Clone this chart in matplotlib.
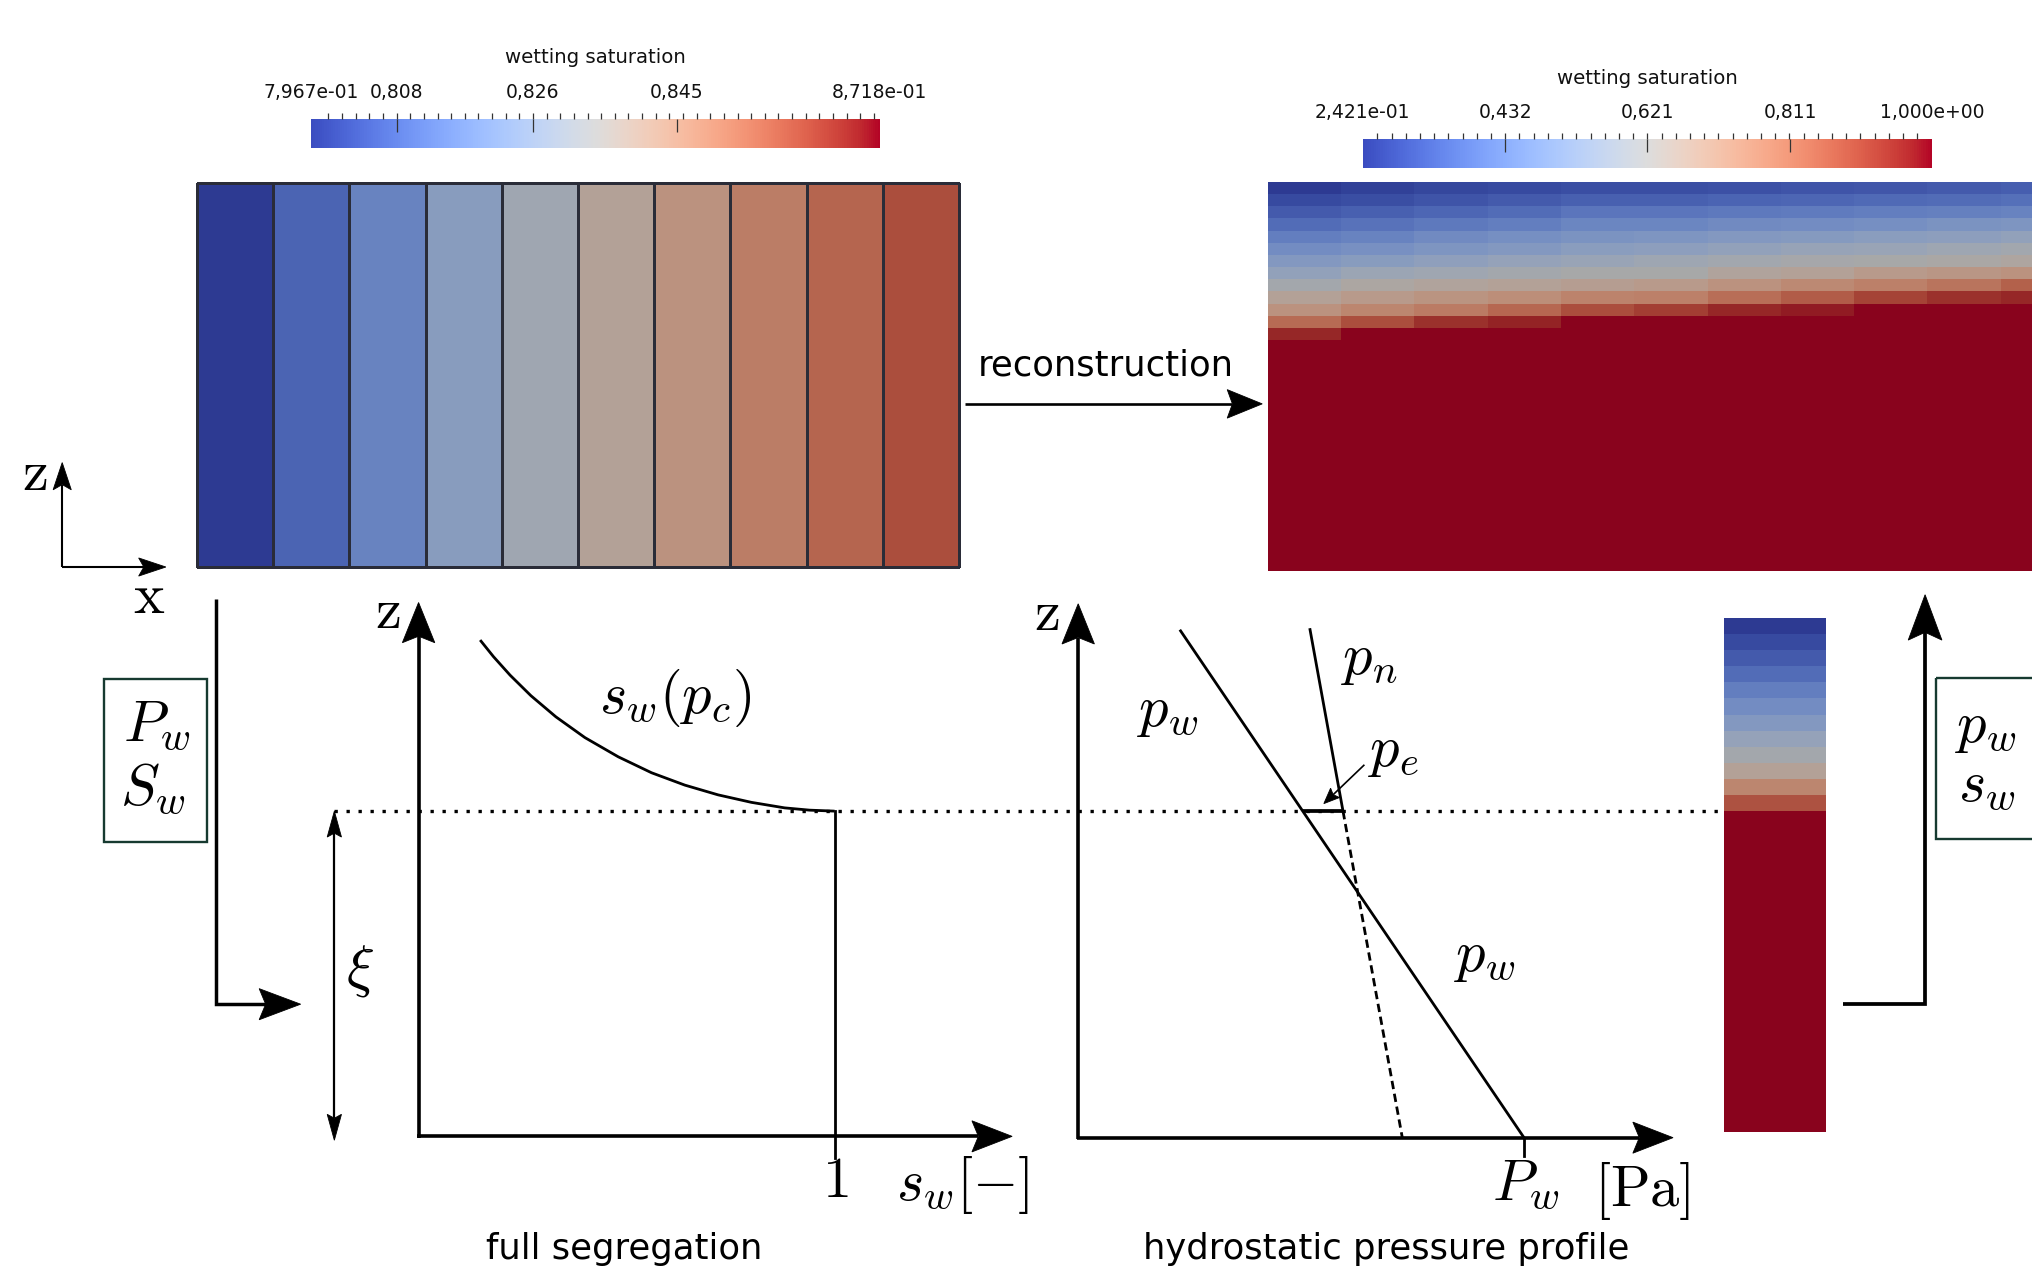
import numpy as np
import matplotlib
matplotlib.use('Agg')
import matplotlib.pyplot as plt
from matplotlib.colors import ListedColormap, Normalize
from matplotlib.patches import Polygon, Rectangle
from matplotlib.transforms import blended_transform_factory
from matplotlib.cm import ScalarMappable

plt.rcParams['mathtext.fontset'] = 'cm'
plt.rcParams['font.family'] = ['DejaVu Sans']

# ---------------------------------------------------------------- data
coarse_range = [0.7967, 0.8718]
coarse_major = [0.808, 0.826, 0.845]
coarse_labels = ['7,967e-01', '0,808', '0,826', '0,845', '8,718e-01']
# coarse cell saturations (10 columns, left -> right)
sat_coarse = [0.7967, 0.8065, 0.8147, 0.8237, 0.8312, 0.8388, 0.8448, 0.8508, 0.8568, 0.8613]

fine_range = [0.2421, 1.0]
fine_major = [0.432, 0.621, 0.811]
fine_labels = ['2,421e-01', '0,432', '0,621', '0,811', '1,000e+00']
# reconstructed fine-scale saturation, top 13 rows (11 columns); rows below are fully wet
sat_fine_top = [
    [0.242, 0.257, 0.272, 0.280, 0.288, 0.288, 0.295, 0.303, 0.310, 0.318, 0.325],
    [0.280, 0.288, 0.303, 0.318, 0.333, 0.333, 0.341, 0.348, 0.356, 0.363, 0.371],
    [0.318, 0.333, 0.348, 0.363, 0.386, 0.386, 0.394, 0.401, 0.409, 0.416, 0.424],
    [0.363, 0.378, 0.394, 0.409, 0.432, 0.432, 0.447, 0.454, 0.462, 0.477, 0.485],
    [0.409, 0.424, 0.447, 0.462, 0.477, 0.485, 0.500, 0.507, 0.522, 0.530, 0.545],
    [0.454, 0.469, 0.485, 0.500, 0.522, 0.530, 0.545, 0.560, 0.568, 0.583, 0.598],
    [0.500, 0.515, 0.538, 0.553, 0.568, 0.583, 0.598, 0.613, 0.621, 0.629, 0.644],
    [0.545, 0.576, 0.591, 0.606, 0.621, 0.621, 0.651, 0.666, 0.697, 0.712, 0.727],
    [0.606, 0.636, 0.651, 0.666, 0.682, 0.697, 0.727, 0.757, 0.780, 0.811, 0.856],
    [0.666, 0.697, 0.720, 0.742, 0.773, 0.780, 0.826, 0.864, 0.917, 0.947, 0.962],
    [0.727, 0.765, 0.795, 0.841, 0.894, 0.924, 0.962, 0.977, 1.000, 1.000, 1.000],
    [0.833, 0.894, 0.947, 0.970, 1.000, 1.000, 1.000, 1.000, 1.000, 1.000, 1.000],
    [0.962, 1.000, 1.000, 1.000, 1.000, 1.000, 1.000, 1.000, 1.000, 1.000, 1.000],
]
n_wet_rows = 19
# vertical saturation profile (32 cells, top -> bottom)
sat_column = [0.242, 0.280, 0.318, 0.363, 0.409, 0.454, 0.500, 0.553, 0.606, 0.666,
              0.765, 0.886] + [1.0] * 20

# full segregation: s_w(p_c) curve above the interface (z in units of xi)
seg_sw = [0.148, 0.18, 0.22, 0.27, 0.33, 0.40, 0.48, 0.56, 0.64, 0.72, 0.80, 0.88, 0.94, 1.0]
seg_z = [1.526, 1.475, 1.418, 1.355, 1.290, 1.226, 1.167, 1.118, 1.080, 1.050, 1.027, 1.010, 1.003, 1.0]
# hydrostatic pressure profile (p in units of P_w, z in units of xi)
pw_p = [0.2297, 1.0]
pw_z = [1.552, 0.0]
pn_p = [0.520, 0.594, 0.727]
pn_z = [1.556, 1.0, 0.0]
xi = 1.0

# ---------------------------------------------------------------- figure
W, H = 1568.0, 984.0
fig = plt.figure(figsize=(20.32, 12.75), dpi=100)


def rect(x0, y0, x1, y1):
    return [x0 / W, 1 - y1 / H, (x1 - x0) / W, (y1 - y0) / H]


axm = fig.add_axes([0, 0, 1, 1])
axm.set_xlim(0, W)
axm.set_ylim(H, 0)
axm.axis('off')

base = plt.get_cmap('coolwarm')(np.linspace(0, 1, 256))[:, :3]
shaded = ListedColormap(np.clip(base * 0.76, 0, 1))


def head(tip, frm, L, hw, notch):
    tip = np.asarray(tip, float)
    frm = np.asarray(frm, float)
    d = tip - frm
    d = d / np.hypot(*d)
    p = np.array([-d[1], d[0]])
    pts = [tip, tip - L * d + hw * p, tip - (L - notch) * d, tip - L * d - hw * p]
    axm.add_patch(Polygon(pts, closed=True, facecolor='black', edgecolor='black',
                          lw=0.6, zorder=6))
    return tip - (L - notch) * d


def arrow(pts, L, hw, notch, lw, both=False, color='black'):
    pts = np.array(pts, float)
    pts[-1] = head(pts[-1], pts[-2], L, hw, notch)
    if both:
        pts[0] = head(pts[0], pts[1], L, hw, notch)
    axm.plot(pts[:, 0], pts[:, 1], color=color, lw=lw, solid_capstyle='butt',
             solid_joinstyle='miter', zorder=5)


def to_m(ax, x, y):
    return axm.transData.inverted().transform(ax.transData.transform((x, y)))


# ---------------- colour bars
def make_cbar(box, rng, majors, labels):
    cax = fig.add_axes(rect(*box))
    cb = fig.colorbar(ScalarMappable(Normalize(*rng), cmap='coolwarm'), cax=cax,
                      orientation='horizontal')
    cb.outline.set_visible(False)
    cax.xaxis.set_ticks_position('top')
    step = (majors[1] - majors[0]) / 10.0
    minors = np.arange(majors[0] - 20 * step, rng[1], step)
    minors = minors[(minors > rng[0] + 0.4 * step) & (minors < rng[1] - 0.4 * step)]
    cb.set_ticks(majors)
    cb.set_ticks(minors, minor=True)
    cax.xaxis.remove_overlapping_locs = False
    cax.tick_params(which='major', direction='in', length=9.3, width=0.9, color='#333333',
                    labeltop=False, labelbottom=False)
    cax.tick_params(which='minor', direction='out', length=4.4, width=0.9, color='#333333')
    tr = blended_transform_factory(cax.transData, cax.transAxes)
    for v, lab in zip([rng[0]] + list(majors) + [rng[1]], labels):
        cax.text(v, 1.73, lab, transform=tr, ha='center', va='baseline', fontsize=13.5,
                 color='#111111')
    cax.text(0.5, 2.92, 'wetting saturation', transform=cax.transAxes, ha='center',
             va='baseline', fontsize=14.2, color='#111111')
    return cax


make_cbar((240, 92, 679, 114.4), coarse_range, coarse_major, coarse_labels)
make_cbar((1051.4, 107.5, 1491, 129.9), fine_range, fine_major, fine_labels)

# ---------------- coarse block
axl = fig.add_axes(rect(152, 141, 740, 437.3))
qm = axl.pcolormesh(np.arange(len(sat_coarse) + 1), [0, 1], np.array([sat_coarse]),
                    cmap=shaded, norm=Normalize(*coarse_range), edgecolors='#2a2c38',
                    linewidth=0.9)
qm.set_clip_on(False)
axl.set_xlim(0, len(sat_coarse))
axl.set_ylim(0, 1)
axl.axis('off')

# ---------------- fine block
fine = np.vstack([np.array(sat_fine_top), np.ones((n_wet_rows, 11))])
colw = 56.56
axr = fig.add_axes(rect(978.3, 140.4, 978.3 + fine.shape[1] * colw, 441))
axr.pcolormesh(np.arange(fine.shape[1] + 1), np.arange(fine.shape[0] + 1), fine,
               cmap=shaded, norm=Normalize(*fine_range), edgecolors='none')
axr.set_xlim(0, fine.shape[1])
axr.set_ylim(fine.shape[0], 0)
axr.axis('off')

# ---------------- column profile
axc = fig.add_axes(rect(1330, 477, 1409, 874))
col = np.array(sat_column).reshape(-1, 1)
axc.pcolormesh([0, 1], np.arange(col.shape[0] + 1), col, cmap=shaded,
               norm=Normalize(*fine_range), edgecolors='none')
axc.set_xlim(0, 1)
axc.set_ylim(col.shape[0], 0)
axc.axis('off')

# ---------------- full segregation plot
axs = fig.add_axes(rect(323, 465, 781, 877))
axs.set_xlim(0, (781 - 323) / 321.0)
axs.set_ylim(0, (877 - 465) / 251.0)
axs.axis('off')
axs.plot(seg_sw, seg_z, color='black', lw=2.0, clip_on=False, solid_capstyle='butt')
axs.plot([seg_sw[-1], seg_sw[-1]], [xi, -0.068], color='black', lw=2.0, clip_on=False)
o = to_m(axs, 0, 0)
zt = to_m(axs, 0, axs.get_ylim()[1])
xt = to_m(axs, axs.get_xlim()[1], 0)
arrow([o + [0, 1.2], zt], 31, 12.5, 5, 2.6)
arrow([o - [1.2, 0], xt], 31, 12, 5, 2.6)

# ---------------- hydrostatic pressure plot
axp = fig.add_axes(rect(832, 466, 1291, 878))
axp.set_xlim(0, (1291 - 832) / 344.0)
axp.set_ylim(0, (878 - 466) / 252.0)
axp.axis('off')
axp.plot(pw_p, pw_z, color='black', lw=2.0, clip_on=False)
axp.plot(pn_p[:2], pn_z[:2], color='black', lw=2.0, clip_on=False)
axp.plot(pn_p[1:], pn_z[1:], color='black', lw=2.0, ls=(0, (3, 1.7)), clip_on=False)
pe_left = np.interp(xi, pw_z[::-1], pw_p[::-1])
axp.plot([pe_left, pn_p[1]], [xi, xi], color='black', lw=2.7, clip_on=False,
         solid_capstyle='butt')
axp.plot([1, 1], [0, -0.056], color='black', lw=2.0, clip_on=False)
o = to_m(axp, 0, 0)
zt = to_m(axp, 0, axp.get_ylim()[1])
xt = to_m(axp, axp.get_xlim()[1], 0)
arrow([o + [0, 1.2], zt], 31, 12.5, 5, 2.6)
arrow([o - [1.2, 0], xt], 31, 12, 5, 2.6)
arrow([to_m(axp, 0.642, 1.142), to_m(axp, 0.551, 1.023)], 12, 5, 2, 1.2)

# ---------------- interface line and xi
yi = to_m(axs, 0, xi)[1]
axm.plot([258, 1330], [yi, yi], color='black', lw=2.4, ls=(0, (1, 2.6)),
         dash_capstyle='butt', zorder=4)
arrow([(258, 880), (258, yi)], 20, 5.5, 3, 1.6, both=True)

# ---------------- other arrows
arrow([(48, 437.6), (48, 357)], 21, 7, 4, 1.5)
arrow([(47.5, 437.6), (128, 437.6)], 21, 7, 4, 1.5)
arrow([(744.7, 311.7), (974, 311.7)], 27, 11, 4, 1.9)
arrow([(166.7, 462), (166.7, 775), (232, 775)], 32, 12, 5, 2.5)
arrow([(1422, 775), (1485.5, 775), (1485.5, 459)], 35, 13, 6, 2.7)

# boxes
for (x0, y0, x1, y1) in [(80, 524, 159.5, 650), (1494, 523, 1620, 647.6)]:
    axm.add_patch(Rectangle((x0, y0), x1 - x0, y1 - y0, fill=False, edgecolor='#163a30',
                            lw=1.7, zorder=5))

# ---------------- text
M = 42
txt = [
    (27, 378, r'$\mathrm{z}$'), (115, 473, r'$\mathrm{x}$'),
    (299, 485, r'$\mathrm{z}$'), (808, 486, r'$\mathrm{z}$'),
    (121, 572, r'$P_w$'), (118, 621, r'$S_w$'),
    (1532, 572.7, r'$p_w$'), (1533, 618.6, r'$s_w$'),
    (521, 550, r'$s_w(p_c)$'), (644.7, 924, r'$1$'), (743, 926, r'$s_w[-]$'),
    (901, 560, r'$p_w$'), (1057, 520.5, r'$p_n$'), (1075, 591, r'$p_e$'),
    (1146, 749, r'$p_w$'), (1177, 926, r'$P_w$'), (1267.5, 931, r'$[\mathrm{Pa}]$'),
]
for x, y, s in txt:
    axm.text(x, y, s, fontsize=M, ha='center', va='baseline', zorder=7)
axm.text(278, 749, r'$\xi$', fontsize=M, ha='center', va='center', zorder=7)

axm.text(853, 289.6, 'reconstruction', fontsize=25.5, ha='center', va='baseline')
axm.text(482, 972, 'full segregation', fontsize=25.5, ha='center', va='baseline')
axm.text(1070, 972, 'hydrostatic pressure profile', fontsize=25.5, ha='center',
         va='baseline')

fig.savefig('out.png', dpi=100, facecolor='white')
